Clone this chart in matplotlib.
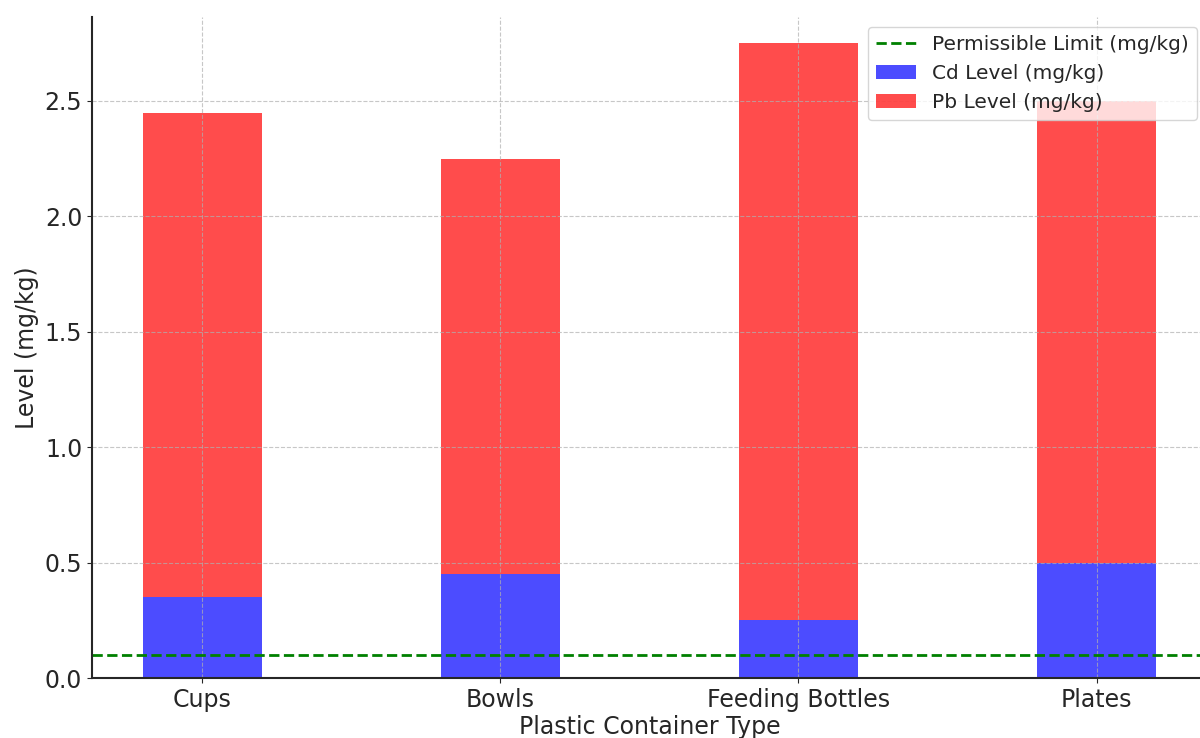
import numpy as np
import matplotlib
matplotlib.use("Agg")
import matplotlib.pyplot as plt

# --- DATOS ---
containers = ["Cups", "Bowls", "Feeding Bottles", "Plates"]
cd_levels = [0.35, 0.45, 0.25, 0.50]
pb_levels = [2.10, 1.80, 2.50, 2.00]
permissible_limit = 0.1

text_col = "#262626"
plt.rcParams["text.color"] = text_col
plt.rcParams["axes.labelcolor"] = text_col
plt.rcParams["xtick.color"] = text_col
plt.rcParams["ytick.color"] = text_col
plt.rcParams["axes.edgecolor"] = text_col

fig = plt.figure(figsize=(12, 7.38), dpi=100)
ax = fig.add_axes([0.0767, 0.0813, 0.929, 0.8957])

x = np.arange(len(containers))
width = 0.4

ax.bar(x, cd_levels, width, color="blue", alpha=0.7, label="Cd Level (mg/kg)")
ax.bar(x, pb_levels, width, bottom=cd_levels, color="red", alpha=0.7,
       label="Pb Level (mg/kg)")
ax.axhline(permissible_limit, color="green", linestyle="--", linewidth=2,
           label="Permissible Limit (mg/kg)")

ax.set_xticks(x)
ax.set_xticklabels(containers, fontsize=17)
ax.tick_params(axis="y", labelsize=17)
ax.set_ylim(0, 2.864)
ax.set_yticks([0.0, 0.5, 1.0, 1.5, 2.0, 2.5])
ax.set_xlabel("Plastic Container Type", fontsize=17, labelpad=2)
ax.set_ylabel("Level (mg/kg)", fontsize=17)

ax.grid(True, linestyle="--", alpha=0.7)
ax.spines["top"].set_visible(False)
ax.spines["right"].set_visible(False)
ax.spines["left"].set_linewidth(1.5)
ax.spines["bottom"].set_linewidth(1.5)

ax.legend(loc="upper right", fontsize=14.5)

fig.savefig("out.png", dpi=100)
